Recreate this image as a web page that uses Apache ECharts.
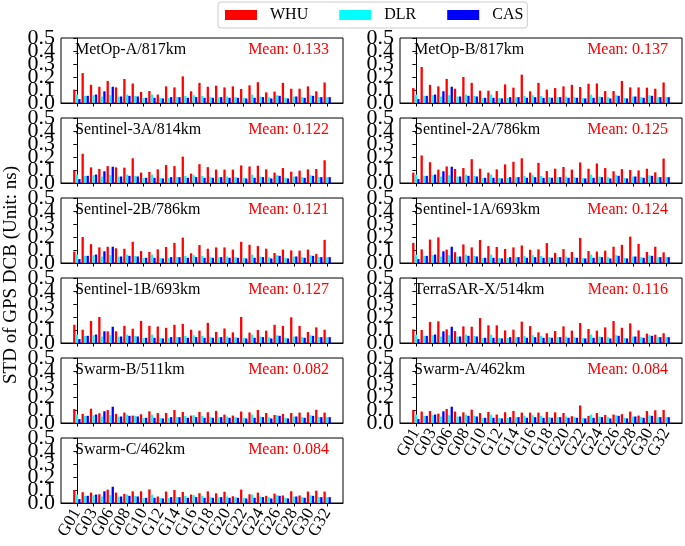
<!DOCTYPE html>
<html><head><meta charset="utf-8">
<script src="https://cdn.jsdelivr.net/npm/echarts@6/dist/echarts.min.js"></script>
<style>html,body{margin:0;padding:0;background:#fff}#c{width:685px;height:546px}</style>
</head><body><div id="c"></div>
<script>
// ---- data ----
const categories = ['G01','G02','G03','G05','G06','G07','G08','G09','G10','G11','G12','G13','G14','G15','G16','G17','G18','G19','G20','G21','G22','G23','G24','G25','G26','G27','G28','G29','G30','G31','G32'];
const tickLabels = ['G01','G03','G06','G08','G10','G12','G14','G16','G18','G20','G22','G24','G26','G28','G30','G32'];
const yTickValues = [0, 0.1, 0.2, 0.3, 0.4, 0.5];
const seriesNames = ['WHU','DLR','CAS'];
const seriesColors = ['#ff0000','#00ffff','#0000ff'];

const dlr = [0.065,0.055,0.06,0.05,0.06,0.05,0.065,0.055,0.04,0.065,0.04,0.04,0.045,0.055,0.06,0.055,0.045,0.045,0.05,0.045,0.04,0.065,0.05,0.045,0.06,0.04,0.05,0.045,0.06,0.045,0.045];
const cas = [0.03,0.055,0.065,0.09,0.125,0.05,0.055,0.05,0.04,0.04,0.035,0.045,0.045,0.04,0.045,0.04,0.04,0.045,0.04,0.04,0.035,0.04,0.045,0.035,0.055,0.035,0.05,0.04,0.055,0.045,0.045];

const whuMetOpA = [0.103,0.23,0.14,0.125,0.17,0.12,0.185,0.15,0.085,0.092,0.065,0.128,0.12,0.205,0.09,0.155,0.125,0.133,0.12,0.128,0.108,0.136,0.16,0.082,0.088,0.155,0.11,0.11,0.128,0.09,0.158];
const whuMetOpB = [0.115,0.277,0.14,0.128,0.185,0.11,0.2,0.155,0.095,0.095,0.092,0.143,0.118,0.218,0.09,0.155,0.103,0.115,0.128,0.14,0.123,0.148,0.15,0.092,0.092,0.17,0.12,0.12,0.118,0.11,0.158];
const whuSentinel3A = [0.097,0.225,0.12,0.108,0.13,0.12,0.118,0.19,0.08,0.085,0.105,0.138,0.13,0.203,0.072,0.145,0.122,0.103,0.103,0.103,0.135,0.127,0.133,0.105,0.08,0.115,0.087,0.095,0.105,0.108,0.175];
const whuSentinel2A = [0.08,0.212,0.16,0.103,0.127,0.108,0.115,0.183,0.11,0.08,0.105,0.143,0.163,0.19,0.08,0.155,0.092,0.11,0.123,0.103,0.158,0.11,0.15,0.115,0.09,0.107,0.1,0.097,0.11,0.082,0.188];
const whuSentinel2B = [0.088,0.2,0.145,0.12,0.125,0.113,0.11,0.163,0.092,0.085,0.105,0.123,0.155,0.195,0.075,0.138,0.11,0.12,0.12,0.103,0.163,0.14,0.13,0.11,0.077,0.103,0.097,0.095,0.103,0.07,0.178];
const whuSentinel1A = [0.155,0.105,0.18,0.197,0.103,0.083,0.143,0.12,0.177,0.13,0.123,0.108,0.12,0.135,0.102,0.105,0.153,0.078,0.107,0.085,0.193,0.092,0.088,0.095,0.125,0.14,0.203,0.147,0.085,0.125,0.082];
const whuSentinel1B = [0.14,0.102,0.17,0.2,0.09,0.09,0.132,0.11,0.17,0.132,0.127,0.117,0.14,0.147,0.102,0.095,0.155,0.085,0.112,0.082,0.2,0.08,0.1,0.095,0.14,0.132,0.198,0.132,0.085,0.12,0.102];
const whuTerraSARX = [0.105,0.1,0.162,0.167,0.105,0.092,0.128,0.125,0.192,0.136,0.136,0.097,0.103,0.164,0.13,0.082,0.075,0.092,0.128,0.095,0.154,0.108,0.095,0.12,0.169,0.117,0.151,0.097,0.072,0.064,0.075];
const whuSwarmB = [0.108,0.07,0.11,0.075,0.1,0.07,0.08,0.057,0.067,0.09,0.077,0.077,0.1,0.085,0.057,0.085,0.083,0.093,0.065,0.057,0.088,0.082,0.1,0.077,0.062,0.07,0.077,0.08,0.082,0.102,0.08];
const whuSwarmA = [0.098,0.088,0.092,0.072,0.108,0.088,0.082,0.103,0.077,0.085,0.065,0.083,0.093,0.08,0.08,0.08,0.085,0.082,0.077,0.052,0.135,0.055,0.077,0.062,0.065,0.068,0.088,0.057,0.092,0.098,0.1];
const whuSwarmC = [0.1,0.083,0.08,0.067,0.103,0.08,0.07,0.09,0.09,0.105,0.05,0.088,0.1,0.085,0.065,0.075,0.09,0.075,0.087,0.052,0.103,0.067,0.08,0.055,0.072,0.058,0.09,0.058,0.088,0.095,0.088];

// panels: [name, mean, whu data, column, row]
const panels = [
  ['MetOp-A/817km', '0.133', whuMetOpA, 0, 0],
  ['Sentinel-3A/814km', '0.122', whuSentinel3A, 0, 1],
  ['Sentinel-2B/786km', '0.121', whuSentinel2B, 0, 2],
  ['Sentinel-1B/693km', '0.127', whuSentinel1B, 0, 3],
  ['Swarm-B/511km', '0.082', whuSwarmB, 0, 4],
  ['Swarm-C/462km', '0.084', whuSwarmC, 0, 5],
  ['MetOp-B/817km', '0.137', whuMetOpB, 1, 0],
  ['Sentinel-2A/786km', '0.125', whuSentinel2A, 1, 1],
  ['Sentinel-1A/693km', '0.124', whuSentinel1A, 1, 2],
  ['TerraSAR-X/514km', '0.116', whuTerraSARX, 1, 3],
  ['Swarm-A/462km', '0.084', whuSwarmA, 1, 4]
];

// ---- layout ----
const W = 685;
const FONT = "'Liberation Serif','Times New Roman',serif";
const colLeft = [61, 400];
const gridW = 282, gridH = 65, top0 = 38, rowStep = 80;
const tickIdx = tickLabels.map(l => categories.indexOf(l));
// split labels into two interleaved sets, each drawn by its own axis so none is dropped for overlap
const xLabA = tickIdx.filter((_, k) => k % 2 === 0), xLabB = tickIdx.filter((_, k) => k % 2 === 1);
const yLabA = yTickValues.filter((_, k) => k % 2 === 0), yLabB = yTickValues.filter((_, k) => k % 2 === 1);

const grids = [], xAxes = [], yAxes = [], series = [], titles = [];
const xLabelStyle = {rotate: 60, fontSize: 17, color: '#000', fontFamily: FONT, margin: 7, showMinLabel: true, showMaxLabel: true, formatter: v => categories[Math.round(v)] || ''};
const yLabelStyle = {fontSize: 22, color: '#000', fontFamily: FONT, margin: 6, showMinLabel: true, showMaxLabel: true, formatter: v => v.toFixed(1)};

panels.forEach((p, i) => {
  const [name, mean, whu, col, row] = p;
  const gx = colLeft[col], gy = top0 + row * rowStep;
  const bottom = (col === 0 && row === 5) || (col === 1 && row === 4);
  grids.push({left: gx, top: gy, width: gridW, height: gridH, show: true, borderColor: '#000', borderWidth: 1, backgroundColor: 'transparent'});
  const xMain = xAxes.length;
  xAxes.push({
    type: 'value', gridIndex: i, min: -1.9, max: 31.9,
    axisLine: {show: true, onZero: false, lineStyle: {color: '#000', width: 1}},
    axisTick: {show: true, length: 3.5, customValues: tickIdx, lineStyle: {color: '#000'}},
    axisLabel: Object.assign({show: bottom, customValues: xLabA}, xLabelStyle),
    splitLine: {show: false}
  });
  xAxes.push({
    type: 'value', gridIndex: i, min: -1.9, max: 31.9, position: 'bottom',
    axisLine: {show: false, onZero: false}, axisTick: {show: false},
    axisLabel: Object.assign({show: bottom, customValues: xLabB}, xLabelStyle),
    splitLine: {show: false}
  });
  const yMain = yAxes.length;
  yAxes.push({
    type: 'value', gridIndex: i, min: 0, max: 0.5, interval: 0.1,
    axisLine: {show: true, lineStyle: {color: '#000', width: 1}},
    axisTick: {show: true, length: 3.5, customValues: yTickValues, lineStyle: {color: '#000'}},
    axisLabel: Object.assign({customValues: yLabA}, yLabelStyle),
    splitLine: {show: false}
  });
  yAxes.push({
    type: 'value', gridIndex: i, min: 0, max: 0.5, interval: 0.1, position: 'left',
    axisLine: {show: false}, axisTick: {show: false},
    axisLabel: Object.assign({customValues: yLabB}, yLabelStyle),
    splitLine: {show: false}
  });
  [whu, dlr, cas].forEach((arr, k) => {
    series.push({
      type: 'bar', name: seriesNames[k], xAxisIndex: xMain, yAxisIndex: yMain,
      data: arr.map((v, j) => [j, v]),
      barWidth: 2.3, barGap: '10%',
      itemStyle: {color: seriesColors[k]},
      silent: true
    });
  });
  titles.push({text: name, left: gx + 14, top: gy + 4, padding: 0,
    textStyle: {fontSize: 16, fontWeight: 'normal', fontFamily: FONT, color: '#000'}});
  titles.push({text: 'Mean: ' + mean, right: W - (gx + gridW) + 14, top: gy + 4, padding: 0,
    textStyle: {fontSize: 16, fontWeight: 'normal', fontFamily: FONT, color: '#ff0000'}});
});

const chart = echarts.init(document.getElementById('c'), null, {renderer: 'canvas'});
chart.setOption({
  animation: false,
  backgroundColor: '#fff',
  title: titles,
  legend: {
    data: seriesNames, left: 218, top: 2, icon: 'rect',
    itemWidth: 32, itemHeight: 10, itemGap: 31,
    borderColor: '#cccccc', borderWidth: 1, borderRadius: 3,
    padding: [5, 4, 5, 7],
    textStyle: {fontSize: 16, fontFamily: FONT, color: '#000', padding: [0, 0, 0, 8]}
  },
  grid: grids, xAxis: xAxes, yAxis: yAxes, series: series,
  graphic: [{
    type: 'text', x: 11, y: 275, rotation: Math.PI / 2,
    style: {text: 'STD of GPS DCB (Unit: ns)', fontSize: 19, fontFamily: FONT, fill: '#000', align: 'center', verticalAlign: 'middle'}
  }]
});
</script></body></html>
